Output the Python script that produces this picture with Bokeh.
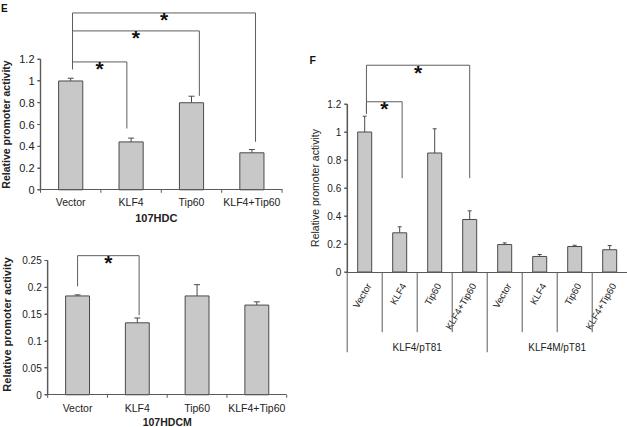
import math
from bokeh.plotting import figure
from bokeh.models import (ColumnDataSource, Range1d, Whisker, TeeHead, Label,
                          FixedTicker, NumeralTickFormatter)
from bokeh.layouts import row, column
from bokeh.embed import file_html
from bokeh.resources import INLINE
from bokeh.core.properties import value

# ---------------- data ----------------
treatments = ["Vector", "KLF4", "Tip60", "KLF4+Tip60"]
y_title = "Relative promoter activity"

e_top_values = [1.00, 0.44, 0.80, 0.34]
e_top_errors = [0.025, 0.035, 0.06, 0.03]
e_top_ticks = [0, 0.2, 0.4, 0.6, 0.8, 1.0, 1.2]
e_top_line = "107HDC"
# (from, to, bracket level, left end, right end)
e_top_sig = [
    ("Vector", "KLF4", 1.175, 1.108, 0.563),
    ("Vector", "Tip60", 1.46, 1.108, 0.863),
    ("Vector", "KLF4+Tip60", 1.625, 1.108, 0.441),
]

e_bot_values = [0.184, 0.134, 0.184, 0.167]
e_bot_errors = [0.002, 0.009, 0.021, 0.006]
e_bot_ticks = [0, 0.05, 0.1, 0.15, 0.2, 0.25]
e_bot_line = "107HDCM"
e_bot_sig = [("Vector", "KLF4", 0.259, 0.202, 0.148)]

f_constructs = ["KLF4/pT81", "KLF4M/pT81"]
f_values = [1.00, 0.28, 0.85, 0.375, 0.196, 0.111, 0.182, 0.159]
f_errors = [0.113, 0.043, 0.173, 0.062, 0.012, 0.014, 0.009, 0.03]
f_ticks = [0, 0.2, 0.4, 0.6, 0.8, 1.0, 1.2]
f_sig = [
    (("KLF4/pT81", "Vector"), ("KLF4/pT81", "KLF4"), 1.216, 1.13, 0.67),
    (("KLF4/pT81", "Vector"), ("KLF4/pT81", "KLF4+Tip60"), 1.477, 1.13, 0.67),
]

# ---------------- style ----------------
FONT = "Liberation Sans"
BAR_FILL = "#c8c8c8"
EDGE = "#4a4a4a"
AXIS = "#5a5a5a"
TXT = "#222222"
BRK = "#5e5e5e"


def make_panel(factors, labels, values, errors, ticks, sig, shifts, *, width, height, xr, yr,
               kx, cap, tick_font, xlab_font, xlab_standoff, show_xlabels=True):
    p = figure(x_range=Range1d(*xr), y_range=Range1d(*yr), width=width, height=height,
               output_backend="svg", toolbar_location=None, title=None, min_border=0,
               min_border_left=0, min_border_right=0, min_border_top=0,
               min_border_bottom=0)
    p.xgrid.visible = False
    p.ygrid.visible = False
    p.outline_line_color = None
    p.background_fill_color = "white"
    p.border_fill_color = "white"

    n = len(factors)
    centers = [i + 0.5 for i in range(n)]

    ya = p.yaxis[0]
    ya.fixed_location = 0
    ya.ticker = FixedTicker(ticks=ticks)
    ya.formatter = NumeralTickFormatter(format="0.[00]")
    ya.bounds = (ticks[0], ticks[-1])
    ya.axis_line_color = AXIS
    ya.axis_line_width = 1.2
    ya.major_tick_line_color = AXIS
    ya.major_tick_line_width = 1.2
    ya.minor_tick_line_color = None
    ya.major_tick_out = 3
    ya.major_tick_in = 0
    ya.major_label_standoff = 3
    ya.major_label_text_font = FONT
    ya.major_label_text_font_size = tick_font
    ya.major_label_text_color = TXT

    xa = p.xaxis[0]
    xa.fixed_location = 0
    xa.bounds = (0, n)
    xa.ticker = FixedTicker(ticks=centers if show_xlabels else [])
    if show_xlabels:
        xa.major_label_overrides = {c: lab for c, lab in zip(centers, labels)}
    xa.axis_line_color = AXIS
    xa.major_tick_line_color = None
    xa.minor_tick_line_color = None
    xa.major_tick_out = 0
    xa.major_tick_in = 0
    xa.major_label_standoff = xlab_standoff
    xa.major_label_text_font = FONT
    xa.major_label_text_font_size = xlab_font
    xa.major_label_text_color = TXT

    p.vbar(x=centers, top=values, bottom=0, width=0.4, fill_color=BAR_FILL,
           line_color=EDGE, line_width=1)

    src = ColumnDataSource(dict(x=centers, lower=values,
                                upper=[v + e for v, e in zip(values, errors)]))
    p.add_layout(Whisker(base="x", lower="lower", upper="upper", source=src,
                         line_color=EDGE, line_width=1, lower_head=None,
                         upper_head=TeeHead(size=cap, line_color=EDGE, line_width=1)))

    idx = {f: i for i, f in enumerate(factors)}
    xs, ys, sx, sy = [], [], [], []
    for (a, b, lev, le, re), (sl, sr) in zip(sig, shifts):
        xl = idx[a] + 0.5 + sl
        xr_ = idx[b] + 0.5 + sr
        xs.append([xl, xl, xr_, xr_])
        ys.append([le, lev, lev, re])
        sx.append((xl + xr_) / 2)
        sy.append(lev)
    p.multi_line(xs=xs, ys=ys, line_color=BRK, line_width=1)
    p.text(x=sx, y=sy, text=["*"] * len(sx), text_font=value(FONT), text_font_size="21px",
           text_font_style="bold", text_align="center", text_baseline="alphabetic",
           y_offset=7, text_color="#111111")
    return p


def add_rule(p, ticks, kx):
    """value-axis rule and outward ticks, also drawn as glyphs"""
    tk = 3.0 / kx
    p.segment(x0=[0], y0=[ticks[0]], x1=[0], y1=[ticks[-1]], line_color=AXIS,
              line_width=1.2)
    p.segment(x0=[0] * len(ticks), y0=ticks, x1=[-tk] * len(ticks), y1=ticks,
              line_color=AXIS, line_width=1.2)


def side_label(p, x, y, text, size, bold=True):
    p.add_layout(Label(x=x, y=y, text=text, angle=math.pi / 2, text_align="center",
                       text_baseline="middle", text_font=FONT, text_font_size=size,
                       text_font_style="bold" if bold else "normal", text_color=TXT))


n_t = len(treatments)
bounds_t = list(range(n_t + 1))

# ---- panel E (top) ----
e1 = make_panel(treatments, treatments, e_top_values, e_top_errors, e_top_ticks, e_top_sig,
                [(0.03, -0.07), (0.03, 0.13), (0.03, 0.06)],
                width=305, height=234, xr=(-0.6623, 4.3874), yr=(-0.4107, 1.7394), kx=60.4,
                cap=6, tick_font="11px", xlab_font="10.5px", xlab_standoff=6)
d1 = 3 / 108.83
e1.segment(x0=bounds_t, y0=[0] * len(bounds_t), x1=bounds_t, y1=[-d1] * len(bounds_t),
           line_color=AXIS, line_width=1)
side_label(e1, -0.566, 0.6, y_title, "10.5px")
e1.add_layout(Label(x=1.917, y=-0.2545, text=e_top_line, text_align="center",
                    text_baseline="middle", text_font=FONT, text_font_size="11px",
                    text_font_style="bold", text_color=TXT))
e1.add_layout(Label(x=-0.655, y=1.7137, text="E", text_align="left", text_baseline="top",
                    text_font=FONT, text_font_size="10px", text_font_style="bold",
                    text_color="#111111"))
add_rule(e1, e_top_ticks, 60.4)

# ---- panel E (bottom) ----
e2 = make_panel(treatments, treatments, e_bot_values, e_bot_errors, e_bot_ticks, e_bot_sig,
                [(0.0, 0.03)],
                width=305, height=193, xr=(-0.79, 4.3146), yr=(-0.0609, 0.2984), kx=59.75,
                cap=6, tick_font="10px", xlab_font="10.5px", xlab_standoff=7)
d2 = 3 / 537.2
e2.segment(x0=bounds_t, y0=[0] * len(bounds_t), x1=bounds_t, y1=[-d2] * len(bounds_t),
           line_color=AXIS, line_width=1)
side_label(e2, -0.678, 0.131, y_title, "11px")
e2.add_layout(Label(x=2.0, y=-0.051, text=e_bot_line, text_align="center",
                    text_baseline="middle", text_font=FONT, text_font_size="10.5px",
                    text_font_style="bold", text_color=TXT))
add_rule(e2, e_bot_ticks, 59.75)

# ---- panel F ----
f_factors = [(g, t) for g in f_constructs for t in treatments]
f_labels = [t for g, t in f_factors]
fp = make_panel(f_factors, f_labels, f_values, f_errors, f_ticks, f_sig,
                [(0.05, 0.07), (0.05, 0.0)],
                width=322, height=427, xr=(-1.1914, 8.0086), yr=(-1.1107, 1.9393), kx=35.0,
                cap=4, tick_font="10px", xlab_font="9.5px", xlab_standoff=0,
                show_xlabels=False)
f_centers = [i + 0.5 for i in range(len(f_factors))]
fp.text(x=f_centers, y=[0] * len(f_centers), text=f_labels, angle=math.pi / 3,
        text_font=value(FONT), text_font_size="9.5px", text_align="right",
        text_baseline="middle", x_offset=4, y_offset=12, text_color=TXT)
sub_b = [i for i in range(1, len(f_factors)) if i % n_t != 0]
grp_b = [i * n_t for i in range(len(f_constructs))]
fp.segment(x0=sub_b, y0=[0] * len(sub_b), x1=sub_b, y1=[-0.43] * len(sub_b),
           line_color=AXIS, line_width=1)
fp.segment(x0=grp_b, y0=[0] * len(grp_b), x1=grp_b, y1=[-0.573] * len(grp_b),
           line_color=AXIS, line_width=1)
fp.text(x=[g * n_t + n_t / 2 for g in range(len(f_constructs))],
        y=[-0.537] * len(f_constructs), text=f_constructs, text_font=value(FONT),
        text_font_size="10px", text_align="center", text_baseline="middle", text_color=TXT)
side_label(fp, -0.906, 0.6, y_title, "10.5px", bold=False)
fp.add_layout(Label(x=-1.077, y=1.5607, text="F", text_align="left", text_baseline="top",
                    text_font=FONT, text_font_size="10.5px", text_font_style="bold",
                    text_color="#111111"))
add_rule(fp, f_ticks, 35.0)

layout = row(column(e1, e2), fp)
open("out.html", "w").write(file_html(layout, INLINE))
